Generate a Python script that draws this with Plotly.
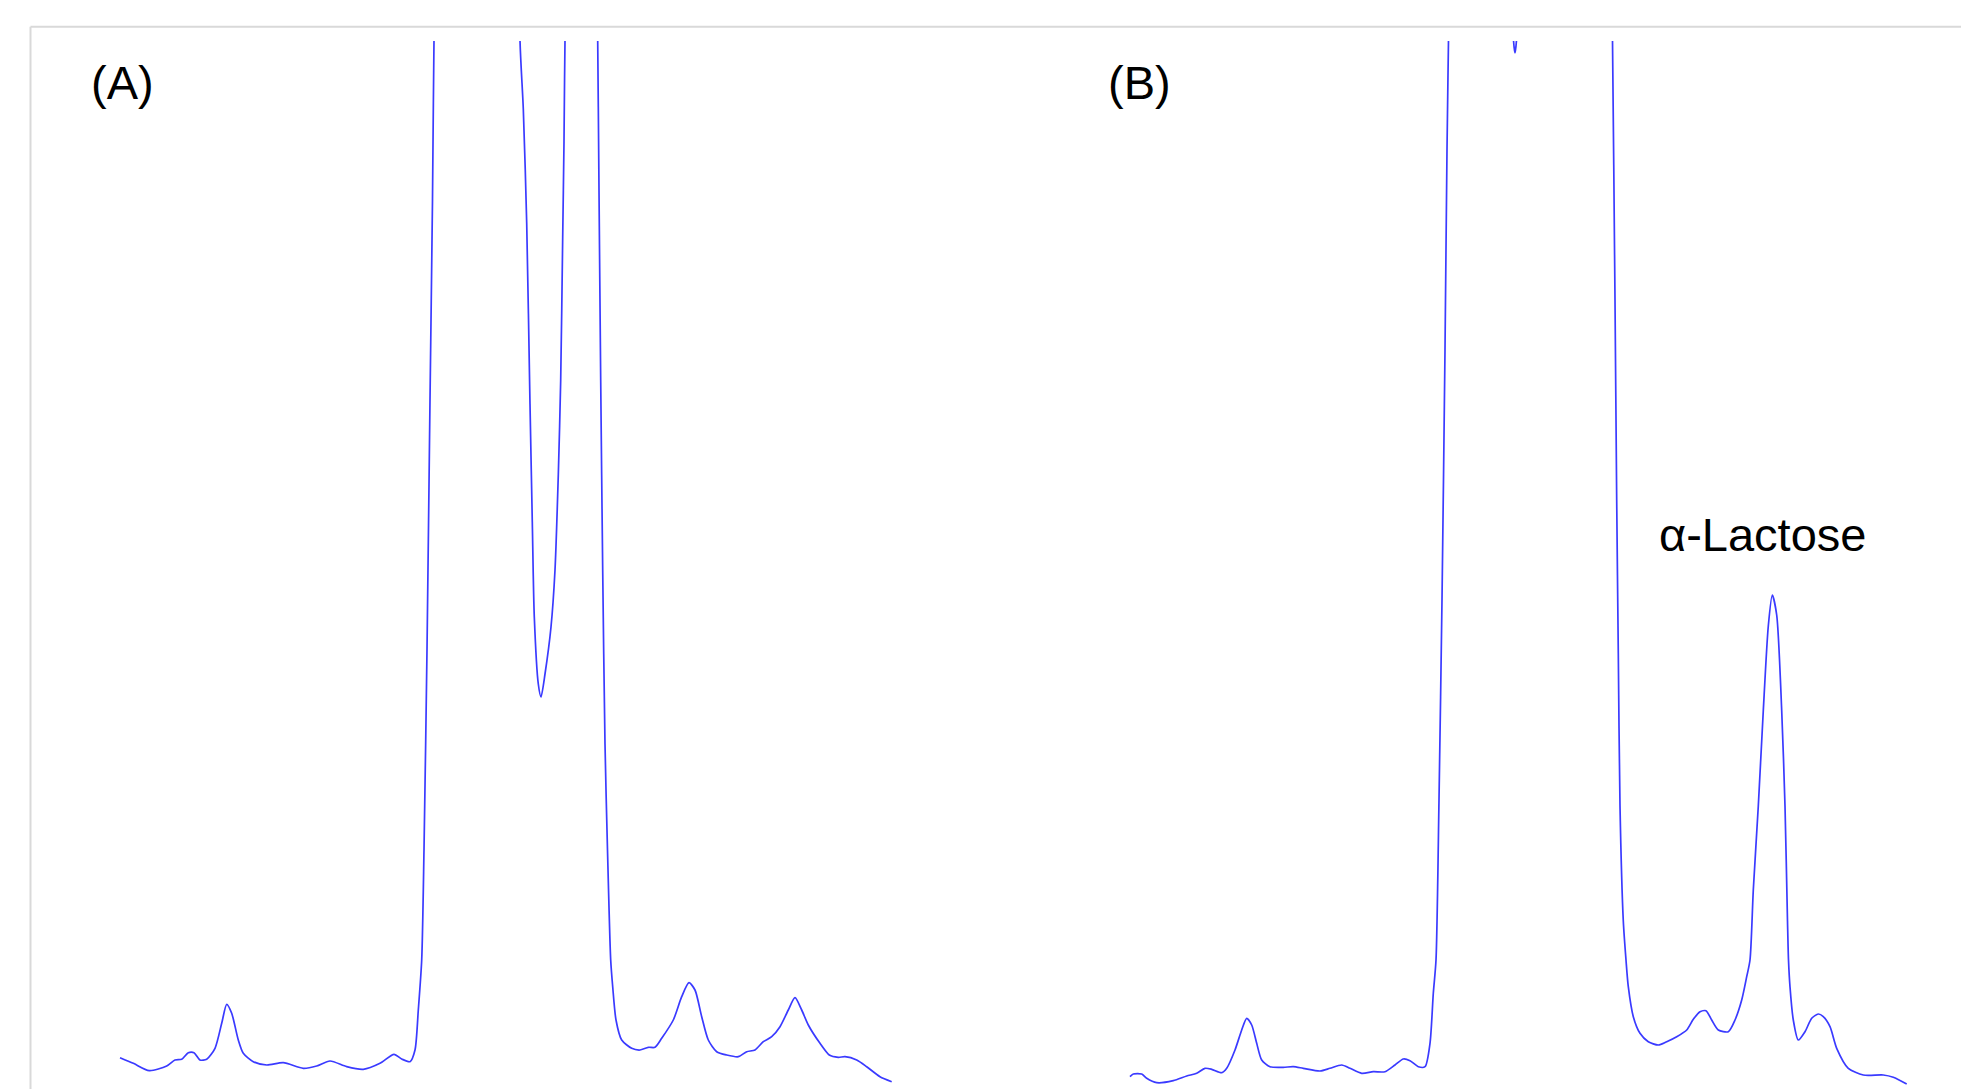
import plotly.graph_objects as go

# Chromatogram (A): retention time (arbitrary min) and detector signal (arbitrary units)
a_time = [1.200, 1.333, 1.493, 1.667, 1.750, 1.817, 1.883, 1.940, 2.000, 2.067,
          2.150, 2.217, 2.267, 2.317, 2.383, 2.433, 2.533, 2.667, 2.833, 3.033,
          3.167, 3.300, 3.467, 3.633, 3.800, 3.940, 4.017, 4.100, 4.150, 4.183,
          4.217, 4.240, 4.270, 4.300, 4.325, 4.340, 4.450, 4.700, 4.800, 5.000,
          5.150, 5.200, 5.233, 5.267, 5.300, 5.323, 5.343, 5.383, 5.410, 5.450,
          5.510, 5.550, 5.583, 5.607, 5.627, 5.640, 5.650, 5.750, 5.850, 5.920,
          5.977, 5.990, 6.007, 6.027, 6.050, 6.075, 6.107, 6.127, 6.160, 6.217,
          6.317, 6.400, 6.483, 6.550, 6.617, 6.733, 6.817, 6.890, 6.950, 7.017,
          7.083, 7.167, 7.267, 7.383, 7.467, 7.550, 7.633, 7.717, 7.800, 7.883,
          7.950, 8.017, 8.083, 8.200, 8.293, 8.383, 8.450, 8.567, 8.667, 8.800,
          8.917]
a_signal = [3.13, 2.57, 1.83, 2.30, 2.90, 2.97, 3.63, 3.63, 2.90, 2.97,
            4.07, 6.57, 8.47, 7.57, 4.90, 3.57, 2.73, 2.40, 2.63, 2.07,
            2.30, 2.80, 2.23, 1.97, 2.57, 3.47, 3.00, 2.73, 3.90, 7.90,
            12.90, 23.90, 43.90, 68.90, 88.90, 104.90, 180.0, 260.0, 280.0, 230.0,
            150.0, 104.86, 98.00, 86.60, 68.50, 56.70, 47.20, 40.50, 39.20, 41.50,
            46.20, 51.90, 61.40, 70.90, 85.20, 94.70, 104.90, 160.0, 200.0, 150.0,
            104.90, 89.90, 70.90, 51.90, 34.50, 23.90, 12.90, 10.23, 6.90, 4.90,
            4.07, 3.90, 4.17, 4.17, 5.07, 6.90, 9.23, 10.63, 9.90, 7.23,
            4.90, 3.73, 3.40, 3.23, 3.73, 3.90, 4.73, 5.23, 6.23, 7.90,
            9.13, 7.90, 6.40, 4.57, 3.40, 3.17, 3.23, 2.90, 2.23, 1.23,
            0.73]

# Chromatogram (B)
b_time = [11.300, 11.333, 11.417, 11.467, 11.567, 11.733, 11.867, 11.967, 12.050, 12.117,
          12.217, 12.267, 12.350, 12.417, 12.467, 12.517, 12.567, 12.617, 12.700, 12.833,
          12.933, 13.033, 13.200, 13.300, 13.417, 13.500, 13.617, 13.733, 13.850, 13.950,
          14.033, 14.100, 14.183, 14.250, 14.300, 14.333, 14.360, 14.390, 14.420, 14.450,
          14.470, 14.485, 14.600, 14.900, 15.080, 15.135, 15.150, 15.165, 15.250, 15.600,
          15.950, 16.080, 16.125, 16.150, 16.167, 16.183, 16.200, 16.233, 16.260, 16.283,
          16.333, 16.400, 16.483, 16.583, 16.667, 16.767, 16.867, 16.933, 17.000, 17.060,
          17.117, 17.183, 17.283, 17.350, 17.417, 17.467, 17.500, 17.533, 17.583, 17.633,
          17.683, 17.723, 17.767, 17.817, 17.850, 17.875, 17.885, 17.900, 17.933, 17.983,
          18.050, 18.117, 18.183, 18.233, 18.300, 18.367, 18.483, 18.633, 18.833, 18.933,
          19.067]
b_signal = [1.23, 1.50, 1.50, 1.07, 0.63, 0.83, 1.30, 1.57, 2.07, 1.97,
            1.63, 2.07, 3.90, 5.90, 7.07, 6.40, 4.57, 2.90, 2.23, 2.17,
            2.23, 2.07, 1.80, 2.07, 2.40, 2.07, 1.57, 1.73, 1.73, 2.40,
            3.00, 2.83, 2.23, 2.23, 4.57, 9.57, 12.90, 28.90, 48.90, 73.90,
            93.90, 104.90, 180.0, 250.0, 140.0, 104.90, 103.60, 104.90, 150.0, 260.0,
            200.0, 140.0, 104.90, 78.90, 58.90, 43.60, 28.30, 16.80, 12.90, 10.23,
            7.23, 5.57, 4.73, 4.40, 4.73, 5.23, 5.90, 6.97, 7.73, 7.83,
            6.90, 5.90, 5.73, 6.90, 8.90, 11.23, 12.90, 19.90, 28.30, 37.85,
            46.30, 49.40, 47.40, 37.85, 28.30, 16.80, 12.90, 10.23, 6.90, 4.90,
            5.73, 7.07, 7.50, 7.23, 6.23, 4.07, 2.07, 1.40, 1.40, 1.17,
            0.50]

panel_labels = ["(A)", "(B)"]
panel_label_x = [1.22, 11.39]
panel_label_y = 100.7
peak_label = "α-Lactose"
peak_label_pos = (17.62, 55.5)

LINE_COLOR = "#3a3aff"
FONT = "Liberation Sans, Arial, sans-serif"

fig = go.Figure()
for t, s in ((a_time, a_signal), (b_time, b_signal)):
    fig.add_trace(go.Scatter(x=t, y=s, mode="lines",
                             line=dict(color=LINE_COLOR, width=1.7,
                                       shape="spline", smoothing=0.7),
                             hoverinfo="skip", showlegend=False))

for lab, lx in zip(panel_labels, panel_label_x):
    fig.add_annotation(x=lx, y=panel_label_y, text=lab, showarrow=False,
                       xanchor="center", yanchor="middle",
                       font=dict(family=FONT, size=47, color="#000000"))
fig.add_annotation(x=peak_label_pos[0], y=peak_label_pos[1], text=peak_label,
                   showarrow=False, xanchor="center", yanchor="middle",
                   font=dict(family=FONT, size=47, color="#000000"))

W, H, TOP = 1961, 1089, 41
frame_x = 30.5 / W
frame_y = 1 + (TOP - 26.7) / (H - TOP)
fig.add_shape(type="line", xref="paper", yref="paper", x0=frame_x, x1=1.01,
              y0=frame_y, y1=frame_y, line=dict(color="#d9d9d9", width=2))
fig.add_shape(type="line", xref="paper", yref="paper", x0=frame_x, x1=frame_x,
              y0=frame_y, y1=-0.05, line=dict(color="#d9d9d9", width=2))

fig.update_layout(
    width=W, height=H,
    margin=dict(l=0, r=0, t=TOP, b=0),
    paper_bgcolor="white", plot_bgcolor="white",
    xaxis=dict(range=[0, 19.61], visible=False, fixedrange=True),
    yaxis=dict(range=[0, 104.8], visible=False, fixedrange=True),
    showlegend=False,
)

fig.write_html("out.html", config={"displayModeBar": False},
               post_script="document.body.style.margin='0';document.body.style.overflow='hidden';")
